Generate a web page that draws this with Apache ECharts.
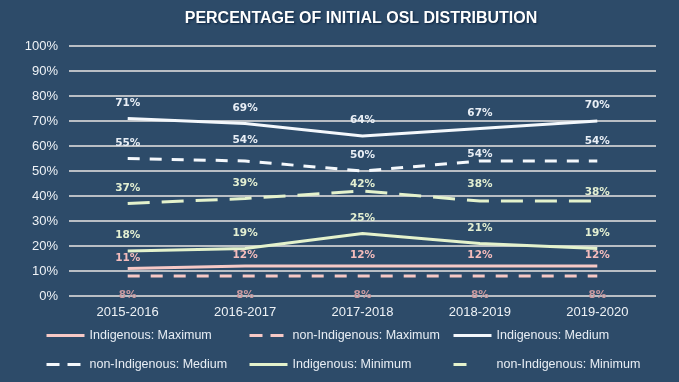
<!DOCTYPE html>
<html><head><meta charset="utf-8">
<script src="https://cdn.jsdelivr.net/npm/echarts@6/dist/echarts.min.js"></script>
<style>html,body{margin:0;padding:0;background:#2d4b69;}#c{width:679px;height:382px;}</style>
</head><body><div id="c"></div>
<script>
const categories = ['2015-2016','2016-2017','2017-2018','2018-2019','2019-2020'];
const indigenousMax = [11,12,12,12,12];
const nonIndigenousMax = [8,8,8,8,8];
const indigenousMed = [71,69,64,67,70];
const nonIndigenousMed = [55,54,50,54,54];
const indigenousMin = [18,19,25,21,19];
const nonIndigenousMin = [37,39,42,38,38];
const seriesNames = ['Indigenous: Maximum','non-Indigenous: Maximum','Indigenous: Medium','non-Indigenous: Medium','Indigenous: Minimum','non-Indigenous: Minimum'];

// label placement tweaks (style only)
const nonIndigenousMedLabelDist = [10,15,10,1,14];
const nonIndigenousMinLabelDist = [10,10,1,11,3];

const PINK = '#f7c9c6', WHITE = '#f4f8fc', GREEN = '#e4f2cc';
const lblFont = 'DejaVu Sans';
function mk(name, data, color, dash, lblColor, pos, dist, dists){
  const d = dists ? data.map((v,i)=>({value:v, label:{distance:dists[i]}})) : data;
  return {
    name, type:'line', data:d, symbol:'circle', symbolSize:0, showSymbol:true, smooth:false,
    lineStyle:{color, width:3, type: dash ? dash : 'solid', cap:'butt'},
    itemStyle:{color, borderWidth:0},
    label:{show:true, position:pos, distance:dist, formatter:'{c}%', color:lblColor, fontFamily:lblFont, fontWeight:'bold', fontSize:10.5},
    emphasis:{disabled:true},
    z: 3
  };
}
const series = [
  mk(seriesNames[0], indigenousMax, PINK, null, '#f5bcbc', 'top', 5),
  mk(seriesNames[1], nonIndigenousMax, PINK, [12,11], '#c99aa0', 'bottom', 14),
  mk(seriesNames[2], indigenousMed, WHITE, null, '#e8eef5', 'top', 10),
  mk(seriesNames[3], nonIndigenousMed, WHITE, [12,10], '#e8eef5', 'top', 10, nonIndigenousMedLabelDist),
  mk(seriesNames[4], indigenousMin, GREEN, null, '#e3efd2', 'top', 10),
  mk(seriesNames[5], nonIndigenousMin, GREEN, [22,12], '#e3efd2', 'top', 10, nonIndigenousMinLabelDist)
];
const legendPos = [[45,329],[248,329],[452,329],[45,358],[248,358],[452,358]];
const legendDash = [null,[13,8],null,[13,8],null,[13,40]];
const legendColor = [PINK,PINK,WHITE,WHITE,GREEN,GREEN];
const legends = seriesNames.map((n,i)=>({
  data:[n], left:legendPos[i][0], top:legendPos[i][1], itemWidth:38, itemHeight:12, itemGap:4, padding:0,
  textStyle:{color:'#e8eef5', fontFamily:'Liberation Sans', fontSize:12.5},
  itemStyle:{color:'transparent', borderWidth:0},
  lineStyle:{width:3, color:legendColor[i], type: legendDash[i] ? legendDash[i] : 'solid'},
  selectedMode:false
}));
const chart = echarts.init(document.getElementById('c'));
chart.setOption({
  backgroundColor:'#2d4b69',
  animation:false,
  title:{text:'PERCENTAGE OF INITIAL OSL DISTRIBUTION', left:356, textAlign:'center', top:6,
    textStyle:{color:'#ffffff', fontFamily:'Liberation Sans', fontWeight:'bold', fontSize:16,
      textShadowColor:'#0d2440', textShadowBlur:2, textShadowOffsetX:1, textShadowOffsetY:1}},
  legend: legends,
  grid:{left:69, right:23, top:46, bottom:86, containLabel:false},
  xAxis:{type:'category', data:categories, boundaryGap:true,
    axisLine:{show:false}, axisTick:{show:false},
    axisLabel:{color:'#eef2f6', fontFamily:'Liberation Sans', fontSize:13, margin:10}},
  yAxis:{type:'value', min:0, max:100, interval:10,
    axisLabel:{formatter:'{value}%', color:'#eef2f6', fontFamily:'Liberation Sans', fontSize:13, margin:11},
    axisLine:{show:false}, axisTick:{show:false},
    splitLine:{lineStyle:{color:'#b9bec4', width:2}}},
  series
});
</script></body></html>
